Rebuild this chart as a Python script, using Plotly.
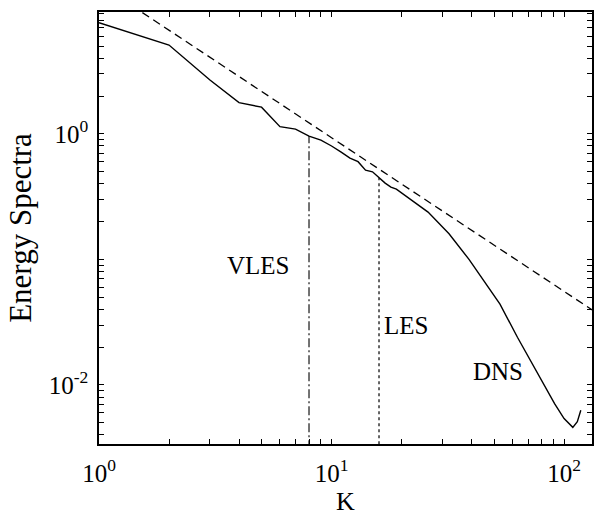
import numpy as np
import plotly.graph_objects as go

# Wavenumber and energy spectrum (solid curve)
k = [1, 2, 3, 4, 5, 6, 7, 8, 9, 10, 11, 12, 13, 14, 15, 16, 17, 18, 19,
     26, 32, 39, 53, 63, 74, 80, 91, 100, 109, 114, 118]
E = [7.66, 5.09, 2.68, 1.77, 1.63, 1.14, 1.09, 0.96, 0.89, 0.80, 0.715, 0.64,
     0.60, 0.514, 0.498, 0.444, 0.405, 0.376, 0.363,
     0.238, 0.16, 0.10, 0.044, 0.024, 0.014, 0.0107, 0.0071, 0.0054, 0.0046,
     0.0051, 0.0063]

# Power-law reference line (dashed), given by its end points
k_ref = [1, 132]
E_ref = [15.6, 0.0396]

# Resolution cut-offs
k_vles = 8
k_les = 16
E_floor = 1e-4

# Region labels
labels = ["VLES", "LES", "DNS"]
label_k = [4.86, 21.0, 52.2]
label_E = [0.0899, 0.0299, 0.0127]

# Labelled decades
x_decades = [1, 10, 100]
x_decade_text = ["10<sup>0</sup>", "10<sup>1</sup>", "10<sup>2</sup>"]
y_decades = [1, 0.01]
y_decade_text = ["10<sup>0</sup>", "10<sup>-2</sup>"]

FONT = "Liberation Serif, Times New Roman, serif"


def log_ticks(decades_exp, labelled, labelled_text):
    """Tick values at 1..9 x 10^n, text only on the labelled decades."""
    vals, texts = [], []
    for n in decades_exp:
        for m in range(1, 10):
            v = m * 10.0 ** n
            vals.append(v)
            match = [t for d, t in zip(labelled, labelled_text)
                     if abs(d - v) < 1e-12 * max(1, v)]
            texts.append(match[0] if match else "")
    return vals, texts


xt_vals, xt_text = log_ticks(range(0, 3), x_decades, x_decade_text)
yt_vals, yt_text = log_ticks(range(-3, 2), y_decades, y_decade_text)

fig = go.Figure()
fig.add_trace(go.Scatter(x=k, y=E, mode="lines",
                         line=dict(color="black", width=1.4)))
fig.add_trace(go.Scatter(x=k_ref, y=E_ref, mode="lines",
                         line=dict(color="black", width=1.3, dash="8px,5px")))
fig.add_trace(go.Scatter(x=[k_vles, k_vles], y=[E_floor, E[k.index(k_vles)]],
                         mode="lines",
                         line=dict(color="black", width=1.1, dash="9px,3px,2px,3px")))
fig.add_trace(go.Scatter(x=[k_les, k_les], y=[E_floor, E[k.index(k_les)]],
                         mode="lines",
                         line=dict(color="black", width=1.2, dash="dot")))

for text, lk, le in zip(labels, label_k, label_E):
    fig.add_annotation(x=np.log10(lk), y=np.log10(le), text=text,
                       showarrow=False, xref="x", yref="y",
                       font=dict(family=FONT, size=25, color="black"))

axis_common = dict(
    showline=True, linecolor="black", linewidth=1.5, mirror="ticks",
    ticks="inside", ticklen=5, tickwidth=1, tickcolor="black",
    showgrid=False, zeroline=False,
    tickfont=dict(family=FONT, size=25, color="black"),
)

fig.update_xaxes(type="log", range=[0, 2.12],
                 tickmode="array", tickvals=xt_vals, ticktext=xt_text,
                 ticklabelstandoff=6,
                 title=dict(text="K", font=dict(family=FONT, size=26, color="black"),
                            standoff=0),
                 **axis_common)
fig.update_yaxes(type="log", range=[-2.47, 0.97],
                 tickmode="array", tickvals=yt_vals, ticktext=yt_text,
                 ticklabelstandoff=4,
                 title=dict(text="Energy Spectra",
                            font=dict(family=FONT, size=31, color="black"),
                            standoff=8),
                 **axis_common)

fig.update_layout(
    width=595, height=520,
    margin=dict(l=99, r=1, t=12, b=76),
    paper_bgcolor="white", plot_bgcolor="white",
    showlegend=False,
)

fig.write_html("out.html")
